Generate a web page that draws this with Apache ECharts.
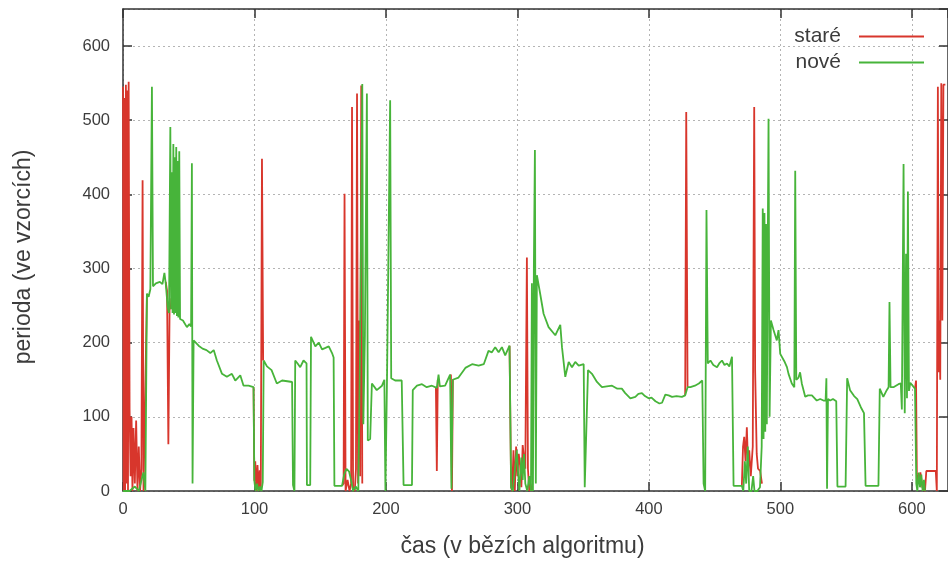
<!DOCTYPE html>
<html>
<head>
<meta charset="utf-8">
<script src="https://cdn.jsdelivr.net/npm/echarts@6/dist/echarts.min.js"></script>
<style>
html,body{margin:0;padding:0;background:#fff;}
#c{width:948px;height:579px;}
</style>
</head>
<body>
<div id="c"></div>
<script>
// series names
const seriesNames = ['staré', 'nové'];
const xTitle = 'čas (v bězích algoritmu)';
const yTitle = 'perioda (ve vzorcích)';
const xRange = [0, 627.5];
const yRange = [0, 650];
const tickStep = 100;

// "nové" (green) — [time, period]
const nove = [
[0,0],[5,0],[9,6],[12,0],[15.5,25],[17,0],[18.2,266],[19.5,262],[20.8,272],[22,545],[22.8,276],[25,280],[28,282],[30,279],[31.5,294],[32.5,280],[34,248],[35,240],
[36,491],[36.6,245],[37.2,430],[37.7,240],[38.3,468],[38.8,238],[39.4,450],[39.9,240],[40.5,464],[41,236],[41.6,445],[42.1,234],[42.8,458],[43.4,232],
[45.6,230],[48.6,221],[50.5,225],[51.8,222],[52.4,442],[52.9,10],[53.7,203],[57.5,196],[60.5,192],[63.5,190],[66.4,186],[69,190],[71.4,176],[75.3,158],[79,154],
[82.8,158],[85.4,149],[89.2,156],[91.7,142],[95.5,142],[99.3,140],[99.9,14],[100.8,0],[102,10],[103,0],[104.2,6],[105.3,0],[106.3,12],[107,176],[109.5,168],
[113,163],[117,145],[121,149],[125,148],[128.6,147],[129.3,8],[130.4,0],[131,176],[132.8,172],[134.8,167],[137.3,176],[139.6,172],[139.9,8],[142.4,8],[143,208],
[146.3,195],[148.9,200],[151.4,191],[154,193],[156.5,195],[159,186],[160.2,180],[160.8,7],[166.6,7],[168.2,22],[170,30],[172,26],[173.8,12],[175,0],[177,6],
[179,0],[180.3,190],[182,549],[182.8,90],[184,210],[185.5,536],[186.2,68],[188,70],[189.3,145],[193,136],[197,142],[198.8,150],[199.6,0],[200.8,150],[203.2,527],
[204,152],[207,149],[212,149],[213.4,8],[219.8,8],[220.4,136],[223.6,142],[227.4,144],[231,140],[235,142],[238.7,139],[240,157],[241,141],[245,142],[248.8,157],
[249.8,3],[250.8,150],[255.2,153],[260.4,166],[265.5,171],[270.5,169],[274.4,171],[278,189],[280.6,187],[283.1,194],[285.7,187],[288.2,194],[290.7,183],[294,196],
[295.2,5],[296.5,0],[298,0],[299.5,55],[300.5,25],[301.5,0],[303,45],[304,15],[305,50],[306,10],[307.5,0],[309,20],[310.3,0],[311,280],[311.8,0],[312.5,300],
[313.3,460],[314,10],[314.8,291],[317.3,266],[319.9,239],[323.7,221],[328.8,210],[332.6,224],[333.9,194],[336.4,154],[339,174],[341.5,167],[344,174],[346.6,169],
[350.4,171],[351.2,5],[352.4,5],[353.7,163],[356.7,158],[360.5,147],[364.3,140],[368,141],[372,142],[376,138],[379.4,138],[382,132],[385.9,125],[389.7,127],
[392,131],[394.7,132],[397,128],[399.8,125],[402,126],[405,121],[408,118],[410,119],[412.5,130],[415,129],[417.6,127],[421,128],[425.1,127],[427.6,129],
[429.4,140],[431.6,140],[435,142],[438,145],[440.6,149],[441.6,10],[442.8,0],[443.8,379],[444.8,172],[446.8,176],[449,170],[451.8,167],[453.5,172],[455.6,176],
[457.5,170],[459.4,172],[461.2,168],[463.2,181],[464.4,7],[470.7,7],[471.8,0],[473,40],[474,10],[475.2,60],[476.3,0],[478,0],[479.3,20],[480.3,0],[482.5,0],
[484.5,5],[485.8,60],[486.6,381],[487.2,70],[487.9,375],[488.5,80],[489.1,360],[489.7,90],[490.3,300],[491,502],[491.8,100],[492.8,230],[494.8,217],[497.3,203],
[498.6,217],[499.9,185],[501.1,185],[503,175],[505,167],[506.2,158],[508.7,145],[510.6,140],[511.3,432],[512.1,150],[513.8,153],[515,160],[516.3,145],[518.9,127],
[521,129],[524,129],[527.7,122],[530.3,124],[532.8,122],[534.4,122],[535,152],[535.5,3],[536.2,124],[537.9,122],[540,124],[542.5,121],[543.4,6],[549.6,6],
[550.8,152],[553,136],[556.1,128],[558.5,124],[561.2,113],[563.6,105],[564.8,7],[574.6,7],[575.6,138],[578.3,127],[580.9,136],[582.3,140],[583,255],[583.8,140],
[586,140],[589.8,144],[591.6,145],[592.4,110],[593.7,441],[594.6,105],[595.6,320],[596.3,125],[597,404],[597.8,135],[598.8,146],[599.8,145],[602.4,138],
[603.4,10],[604.2,0],[605.2,25],[606.2,5],[607.2,22],[608.2,0],[609.2,15],[610,0]
];

// "staré" (red) — only where it differs from "nové" (elsewhere it lies under it); null = break
const stare = [
[0,545],[0.5,0],[1.1,530],[1.6,0],[2.2,548],[2.7,10],[3.3,540],[3.8,0],[4.3,552],[5,110],[5.8,20],[6.5,100],[7.2,0],[8,85],[9,10],[10,95],[11,0],[12,60],
[13,0],[14,30],[14.9,419],[15.6,0],[17,0],[18.2,266],[18.6,null],
[32.5,282],[33.5,270],[34.5,63],[35.5,260],[36,245],[36.2,null],
[99.3,140],[99.9,14],[100.6,40],[101.4,0],[102.3,35],[103.2,0],[104,28],[104.8,5],[105.7,448],[106.6,176],[107,176],[107.2,null],
[166.6,7],[167.8,10],[168.5,401],[169.3,0],[170.8,15],[172.3,0],[173.5,10],[174.2,518],[175,5],[176.3,0],[177.2,30],[178,536],[178.8,10],[179.6,230],
[180.4,20],[181.2,547],[182,10],[182.2,null],
[238,139],[238.7,27],[239.4,150],[239.6,null],
[249.4,157],[250.2,0],[250.9,150],[251,null],
[294,196],[295.2,5],[296,0],[297,55],[298,0],[299,60],[300,20],[301,50],[302,35],[303,5],[304,62],[305,45],[306,30],[307.2,315],[308,30],[309,0],[310,10],
[311,0],[311.2,null],
[427.6,129],[428.4,511],[429.4,140],[429.6,null],
[470.7,7],[471.6,60],[472.5,73],[473.5,40],[474.5,86],[475.5,30],[476.3,55],[477.5,20],[479,60],[480.1,518],[480.8,163],[482,50],[483,30],[484.6,27],
[486,10],[486.2,null],
[602.4,138],[603.2,149],[603.8,23],[605,10],[606.5,25],[608,5],[610,0],[611,27],[618.2,27],[619,0],[619.8,545],[620.4,160],[621,230],[621.6,150],
[622.4,550],[623.2,230],[624,548],[625.5,548]
];

const RED = '#d8362c';
const GREEN = '#47b43a';
const AX = '#333333';
const TXT = '#3c3c3c';
const FONT = 'Liberation Sans, Arial, sans-serif';

const chart = echarts.init(document.getElementById('c'), null, {renderer: 'canvas'});

function frameAxis(pos, isX) {
  return {
    type: 'value', position: pos,
    min: isX ? xRange[0] : yRange[0], max: isX ? xRange[1] : yRange[1], interval: tickStep,
    axisLine: {show: true, onZero: false, lineStyle: {color: AX, width: 1.5}},
    axisTick: {show: true, inside: true, length: 9, lineStyle: {color: AX, width: 1.5}},
    axisLabel: {show: false},
    splitLine: {show: false}
  };
}

chart.setOption({
  animation: false,
  backgroundColor: '#fff',
  grid: {left: 123, right: 0, top: 9, bottom: 88, containLabel: false},
  legend: {
    orient: 'vertical', right: 19, top: 21, align: 'right',
    icon: 'rect', itemWidth: 65, itemHeight: 2, itemGap: 5,
    data: seriesNames,
    textStyle: {fontSize: 21, color: TXT, fontFamily: FONT, padding: [0, 13, 0, 0]}
  },
  xAxis: [{
    type: 'value', position: 'bottom',
    min: xRange[0], max: xRange[1], interval: tickStep,
    name: xTitle, nameLocation: 'middle', nameGap: 44,
    nameTextStyle: {fontSize: 23, color: TXT, fontFamily: FONT, padding: [0, 26, 0, 0]},
    axisLine: {show: true, onZero: false, lineStyle: {color: AX, width: 1.5}},
    axisTick: {show: true, inside: true, length: 9, lineStyle: {color: AX, width: 1.5}},
    axisLabel: {fontSize: 16.5, color: TXT, fontFamily: FONT, margin: 10, showMaxLabel: false},
    splitLine: {show: true, lineStyle: {color: '#b4b4b4', type: [2, 3], width: 1}}
  }, frameAxis('top', true)],
  yAxis: [{
    type: 'value', position: 'left',
    min: yRange[0], max: yRange[1], interval: tickStep,
    name: yTitle, nameLocation: 'middle', nameGap: 88, nameRotate: 90,
    nameTextStyle: {fontSize: 23, color: TXT, fontFamily: FONT, padding: [0, 14, 0, 0]},
    axisLine: {show: true, onZero: false, lineStyle: {color: AX, width: 1.5}},
    axisTick: {show: true, inside: true, length: 9, lineStyle: {color: AX, width: 1.5}},
    axisLabel: {fontSize: 16.5, color: TXT, fontFamily: FONT, margin: 13, showMaxLabel: false},
    splitLine: {show: true, lineStyle: {color: '#b4b4b4', type: [2, 3], width: 1}}
  }, frameAxis('right', false)],
  series: [
    {name: seriesNames[0], type: 'line', data: stare, xAxisIndex: 0, yAxisIndex: 0,
     showSymbol: false, symbol: 'none', connectNulls: false,
     lineStyle: {color: RED, width: 1.8}, itemStyle: {color: RED}},
    {name: seriesNames[1], type: 'line', data: nove, xAxisIndex: 0, yAxisIndex: 0,
     showSymbol: false, symbol: 'none',
     lineStyle: {color: GREEN, width: 1.8}, itemStyle: {color: GREEN}}
  ]
});
</script>
</body>
</html>
